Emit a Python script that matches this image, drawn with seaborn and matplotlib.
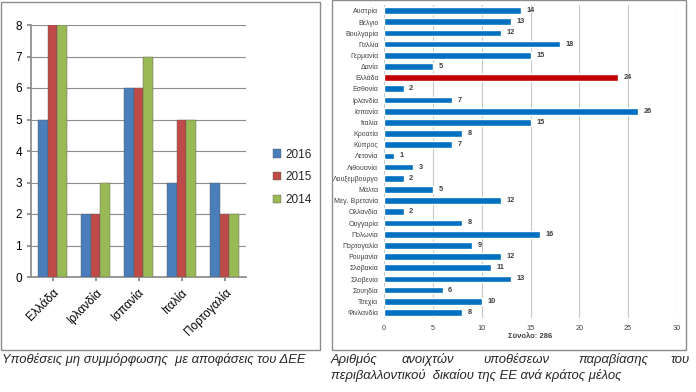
import matplotlib
matplotlib.use("Agg")
import matplotlib.pyplot as plt
import pandas as pd
import seaborn as sns
from matplotlib.patches import Rectangle

sns.set_theme(style="white")
plt.rcParams['font.family'] = ['Liberation Sans', 'DejaVu Sans']

# αριστερό διάγραμμα: υποθέσεις μη συμμόρφωσης
xwres = ['Ελλάδα', 'Ιρλανδία', 'Ισπανία', 'Ιταλία', 'Πορτογαλία']
etos_2016 = [5, 2, 6, 3, 3]
etos_2015 = [8, 2, 6, 5, 2]
etos_2014 = [8, 3, 7, 5, 2]
etikettes_etos = ['2016', '2015', '2014']

# δεξί διάγραμμα: ανοιχτές υποθέσεις ανά κράτος μέλος
krath = ['Αυστρία', 'Βέλγιο', 'Βουλγαρία', 'Γαλλία', 'Γερμανία', 'Δανία', 'Ελλάδα',
         'Εσθονία', 'Ιρλανδία', 'Ισπανία', 'Ιταλία', 'Κροατία', 'Κύπρος', 'Λετονία',
         'Λιθουανία', 'Λουξεμβούργο', 'Μάλτα', 'Μεγ. Βρετανία', 'Ολλανδία', 'Ουγγαρία',
         'Πολωνία', 'Πορτογαλία', 'Ρουμανία', 'Σλοβακία', 'Σλοβενία', 'Σουηδία',
         'Τσεχία', 'Φινλανδία']
ypotheseis = [14, 13, 12, 18, 15, 5, 24, 2, 7, 26, 15, 8, 7, 1, 3, 2, 5, 12, 2, 8,
              16, 9, 12, 11, 13, 6, 10, 8]
synolo = 'Σύνολο: 286'
titlos_aristera = 'Υποθέσεις μη συμμόρφωσης  με αποφάσεις του ΔΕΕ'
titlos_dexia_1 = ['Αριθμός', 'ανοιχτών', 'υποθέσεων', 'παραβίασης', 'του']
titlos_dexia_2 = 'περιβαλλοντικού  δικαίου της ΕΕ ανά κράτος μέλος'

W, H = 696, 392
fig = plt.figure(figsize=(6.96, 3.92), dpi=100)


def thesi(x0, y0, x1, y1):
    # pixel box -> figure fraction [left, bottom, width, height]
    return [x0 / W, 1 - y1 / H, (x1 - x0) / W, (y1 - y0) / H]


# πλαίσια
for x0, y0, x1, y1 in [(1, 2, 320, 350), (332, 0, 686, 350)]:
    l, b, w, h = thesi(x0, y0, x1, y1)
    fig.patches.append(Rectangle((l, b), w, h, transform=fig.transFigure,
                                 fill=False, edgecolor='#8C8C8C', linewidth=1))

# ---- αριστερά ----
ax1 = fig.add_axes(thesi(31, 25, 246, 277))
df = pd.DataFrame({
    'xwra': xwres * 3,
    'etos': [e for e in etikettes_etos for _ in xwres],
    'timh': etos_2016 + etos_2015 + etos_2014,
})
sns.barplot(data=df, x='xwra', y='timh', hue='etos', hue_order=etikettes_etos,
            palette=['#4A7EBB', '#BE4B48', '#98B954'], width=0.66, ax=ax1,
            edgecolor='#5a5a5a', linewidth=0.3, saturation=1, zorder=3)
ax1.set_ylim(0, 8)
ax1.set_yticks(range(0, 9))
ax1.tick_params(axis='y', labelsize=8.5, colors='black', length=3, left=True, color='#888888')
ax1.tick_params(axis='x', labelsize=8.5, colors='black', length=3, bottom=True, color='#888888')
ax1.set_xticks(range(len(xwres)))
ax1.set_xticklabels(xwres, rotation=45, ha='right', rotation_mode='anchor')
ax1.yaxis.grid(True, color='#8C8C8C', linewidth=0.8, zorder=0)
ax1.set_axisbelow(True)
for s in ['top', 'right']:
    ax1.spines[s].set_visible(False)
for s in ['left', 'bottom']:
    ax1.spines[s].set_color('#8C8C8C')
ax1.set_xlabel('')
ax1.set_ylabel('')
ax1.legend(loc='upper left', bbox_to_anchor=(262 / W, 1 - 138 / H),
           bbox_transform=fig.transFigure, frameon=False, fontsize=8.5,
           handlelength=0.7, handleheight=0.7, handletextpad=0.4, labelspacing=0.9)

# ---- δεξιά ----
ax2 = fig.add_axes(thesi(384, 5, 677, 318))
xrwmata = {k: ('#C00000' if k == 'Ελλάδα' else '#0070C0') for k in krath}
sns.barplot(x=ypotheseis, y=krath, hue=krath, palette=xrwmata, legend=False,
            orient='h', width=0.6, saturation=1, ax=ax2, zorder=3)
ax2.set_xlim(0, 30)
ax2.set_xticks(range(0, 31, 5))
ax2.xaxis.grid(True, color='#C8C8C8', linewidth=0.8, zorder=0)
ax2.set_axisbelow(True)
for s in ax2.spines.values():
    s.set_visible(False)
ax2.tick_params(axis='y', labelsize=5, colors='#404040', length=0, pad=4)
ax2.tick_params(axis='x', labelsize=5.3, colors='#404040', length=0, pad=5)
for c in ax2.containers:
    ax2.bar_label(c, padding=4, fontsize=5.3, color='#404040', fontweight='bold')
ax2.set_xlabel('')
ax2.set_ylabel('')
fig.text(530 / W, 1 - 337 / H, synolo, fontsize=5.5, fontweight='bold',
         color='#404040', ha='center', va='center')

# ---- λεζάντες ----
fig.text(2 / W, 1 - 360 / H, titlos_aristera, fontsize=9.4, style='italic',
         ha='left', va='center')
x_lexeis = [331, 402, 483, 578, 671]
for x, w in zip(x_lexeis, titlos_dexia_1):
    fig.text(x / W, 1 - 360 / H, w, fontsize=9.4, style='italic', ha='left', va='center')
fig.text(331 / W, 1 - 375 / H, titlos_dexia_2, fontsize=9.4, style='italic',
         ha='left', va='center')

fig.savefig('out.png', dpi=100)
